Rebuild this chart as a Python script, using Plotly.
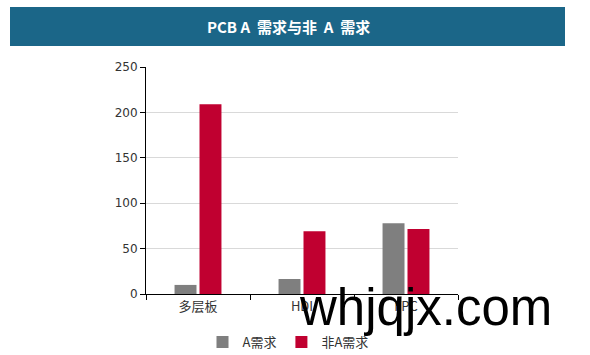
import plotly.graph_objects as go

categories = ["多层板", "HDI", "FPC"]
series_names = ["A需求", "非A需求"]
a_values = [10, 16.5, 78]
non_a_values = [209, 69, 71.5]
y_ticks = [0, 50, 100, 150, 200, 250]
colors = ["#7f7f7f", "#c00030"]

W, H = 590, 355
L, R, T, B = 146, 132, 67, 61
pw, ph = W - L - R, H - T - B

def px(x):
    return (x - L) / pw

def py(y):
    return (H - B - y) / ph

fig = go.Figure()
fig.add_trace(go.Bar(x=categories, y=a_values, name=series_names[0],
                     marker=dict(color=colors[0], line=dict(width=0))))
fig.add_trace(go.Bar(x=categories, y=non_a_values, name=series_names[1],
                     marker=dict(color=colors[1], line=dict(width=0))))

fig.update_layout(
    width=W, height=H,
    margin=dict(l=L, r=R, t=T, b=B, autoexpand=False),
    paper_bgcolor="white", plot_bgcolor="white",
    barmode="group", bargap=0.52, bargroupgap=0.12,
    showlegend=True,
    legend=dict(orientation="h", x=px(288), xanchor="center", y=py(342), yanchor="middle",
                font=dict(family="Noto Sans CJK SC", size=13, color="#333"),
                itemwidth=30, tracegroupgap=0, itemsizing="constant"),
    font=dict(family="DejaVu Sans", color="#333"),
    xaxis=dict(showline=True, linecolor="black", linewidth=1, ticks="outside",
               tickson="boundaries", ticklen=5, tickcolor="black",
               tickfont=dict(family="Noto Sans CJK SC", size=13, color="#333"),
               showgrid=False),
    yaxis=dict(range=[0, 250], tickvals=y_ticks, showline=True, linecolor="black",
               linewidth=1, ticks="outside", ticklen=5, tickcolor="black",
               gridcolor="#d9d9d9", gridwidth=1,
               tickfont=dict(family="DejaVu Sans", size=12, color="#333"),
               zeroline=False),
    shapes=[dict(type="rect", xref="paper", yref="paper",
                 x0=px(10), x1=px(565), y0=py(46), y1=py(7),
                 fillcolor="#1b6688", line=dict(width=0), layer="below")],
    annotations=[
        dict(text="<b>PCB A  需求与非  A  需求</b>", xref="paper", yref="paper",
             x=px(288), y=py(26.5), xanchor="center", yanchor="middle", showarrow=False,
             font=dict(family="Noto Sans CJK SC", size=15, color="white")),
        dict(text="whjqjx.com", xref="paper", yref="paper",
             x=px(297), y=py(307), xanchor="left", yanchor="middle", showarrow=False,
             font=dict(family="Liberation Sans", size=51, color="black")),
    ],
)

fig.write_html("out.html")
